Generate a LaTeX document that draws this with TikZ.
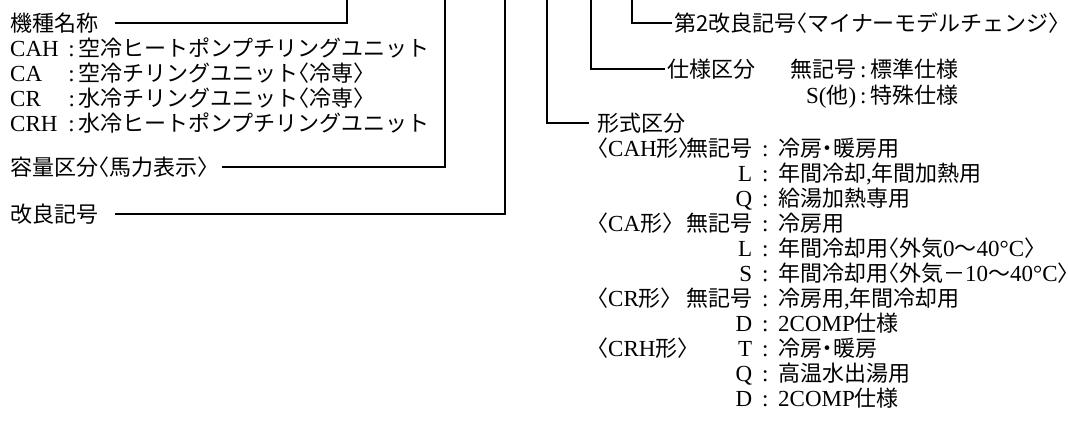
\documentclass[tikz,border=0pt]{standalone}
\usepackage{fontspec}
\setmainfont{Liberation Serif}
\newfontfamily\jp{Noto Sans CJK JP}
\newfontfamily\jph[RawFeature={+halt}]{Noto Sans CJK JP}
\newcommand\hw[1]{{\jph #1}}
\newcommand\la[1]{{\fontsize{23pt}{26pt}\selectfont\rmfamily #1}}
\newcommand\entry[3]{\rlap{#1}\makebox[155pt][r]{#2}\makebox[26pt]{\la{:}}#3}
\begin{document}
\begin{tikzpicture}[x=1pt,y=-1pt,
  txt/.style={inner sep=0pt, anchor=west, font={\fontsize{22pt}{26pt}\selectfont\jp}, text height=19.36pt, text depth=2.64pt},
  ln/.style={line width=1.4pt, black}]
\useasboundingbox[fill=white] (0,0) rectangle (1068,432);
% ---- left column ----
\node[txt] (kishu) at (10,23) {機種名称};
\node[txt] (cah) at (10,48) {\makebox[55pt][l]{\la{CAH}}\makebox[13pt]{\la{:}}空冷ヒートポンプチリングユニット};
\node[txt] (ca) at (10,73) {\makebox[55pt][l]{\la{CA}}\makebox[13pt]{\la{:}}空冷チリングユニット\hw{〈}冷専\hw{〉}};
\node[txt] (cr) at (10,98) {\makebox[55pt][l]{\la{CR}}\makebox[13pt]{\la{:}}水冷チリングユニット\hw{〈}冷専\hw{〉}};
\node[txt] (crh) at (10,123) {\makebox[55pt][l]{\la{CRH}}\makebox[13pt]{\la{:}}水冷ヒートポンプチリングユニット};
\node[txt] (yoryo) at (10,167) {容量区分\hw{〈}馬力表示\hw{〉}};
\node[txt] (kairyo) at (10,214) {改良記号};
\coordinate (vk) at (347,0);
\coordinate (vy) at (445,0);
\coordinate (vr) at (505,0);
\draw[ln] ([xshift=17pt]kishu.east) -| (vk);
\draw[ln] ([xshift=14pt]yoryo.east) -| (vy);
\draw[ln] ([xshift=17pt]kairyo.east) -| (vr);
% ---- right column ----
\coordinate (vd) at (632,0);
\coordinate (vs) at (591,0);
\coordinate (vf) at (547,0);
\node[txt] (dai2) at (674,23) {第2改良記号\hw{〈}マイナーモデルチェンジ\hw{〉}};
\node[txt] (shiyo) at (667,69) {仕様区分};
\node[txt] (sy1) at (770,69) {\makebox[86pt][r]{無記号}\makebox[14pt]{\la{:}}標準仕様};
\node[txt] (sy2) at (770,95) {\makebox[86pt][r]{\la{S(}他\la{)}}\makebox[14pt]{\la{:}}特殊仕様};
\node[txt] (keishiki) at (597,123) {形式区分};
\draw[ln] (vd) |- ([xshift=-2pt]dai2.west);
\draw[ln] (vs) |- ([xshift=-2pt]shiyo.west);
\draw[ln] (vf) |- ([xshift=-8pt]keishiki.west);
\node[txt] (k1) at (597,148) {\entry{\hw{〈}\la{CAH}形\hw{〉}}{無記号}{冷房\hw{・}暖房用}};
\node[txt] (k2) at (597,173) {\entry{}{\la{L}}{年間冷却\la{,}年間加熱用}};
\node[txt] (k3) at (597,198) {\entry{}{\la{Q}}{給湯加熱専用}};
\node[txt] (k4) at (597,223) {\entry{\hw{〈}\la{CA}形\hw{〉}}{無記号}{冷房用}};
\node[txt] (k5) at (597,248) {\entry{}{\la{L}}{年間冷却用\hw{〈}外気\la{0}～\la{40°C}\hw{〉}}};
\node[txt] (k6) at (597,273) {\entry{}{\la{S}}{年間冷却用\hw{〈}外気－\la{10}～\la{40°C}\hw{〉}}};
\node[txt] (k7) at (597,298) {\entry{\hw{〈}\la{CR}形\hw{〉}}{無記号}{冷房用\la{,}年間冷却用}};
\node[txt] (k8) at (597,323) {\entry{}{\la{D}}{\la{2COMP}仕様}};
\node[txt] (k9) at (597,348) {\entry{\hw{〈}\la{CRH}形\hw{〉}}{\la{T}}{冷房\hw{・}暖房}};
\node[txt] (k10) at (597,373) {\entry{}{\la{Q}}{高温水出湯用}};
\node[txt] (k11) at (597,398) {\entry{}{\la{D}}{\la{2COMP}仕様}};
\end{tikzpicture}
\end{document}
